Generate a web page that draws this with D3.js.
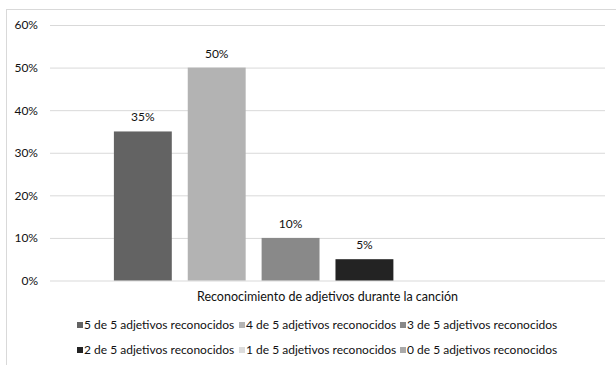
<!DOCTYPE html>
<html>
<head>
<meta charset="utf-8">
<script src="https://cdn.jsdelivr.net/npm/d3@7/dist/d3.min.js"></script>
<style>
  html, body { margin: 0; padding: 0; background: #fff; }
  svg text { font-family: "Lato", "Liberation Sans", sans-serif; fill: #111; }
</style>
</head>
<body>
<svg id="chart" width="616" height="365"></svg>
<script>
// One category, six series (number of adjectives recognised)
const category = "Reconocimiento de adjetivos durante la canción";
const seriesNames = [
  "5 de 5 adjetivos reconocidos",
  "4 de 5 adjetivos reconocidos",
  "3 de 5 adjetivos reconocidos",
  "2 de 5 adjetivos reconocidos",
  "1 de 5 adjetivos reconocidos",
  "0 de 5 adjetivos reconocidos"
];
const seriesValues = [35, 50, 10, 5, 0, 0];
const seriesColors = ["#636363", "#b3b3b3", "#898989", "#232323", "#dcdcdc", "#a9a9a9"];
const yTicks = [0, 10, 20, 30, 40, 50, 60];

const svg = d3.select("#chart");
const W = 616, H = 365;
const plot = { left: 50, right: 605, top: 25, bottom: 280.5 };

// outer chart frame
svg.append("rect")
  .attr("x", 6.5).attr("y", 9.5)
  .attr("width", W + 20).attr("height", H + 20)
  .attr("fill", "none").attr("stroke", "#d9d9d9");

const y = d3.scaleLinear().domain([0, 60]).range([plot.bottom, plot.top]);
const x = d3.scaleBand().domain(seriesNames)
  .range([plot.left, plot.right])
  .paddingInner(0.216).paddingOuter(0.865);

// gridlines + tick labels
const yAxis = d3.axisLeft(y).tickValues(yTicks)
  .tickSize(-(plot.right - plot.left)).tickPadding(12)
  .tickFormat(d => d + "%");
const gy = svg.append("g").attr("transform", `translate(${plot.left},0)`).call(yAxis);
gy.select(".domain").remove();
gy.selectAll(".tick line").attr("stroke", "#d9d9d9").attr("stroke-width", 1);
gy.selectAll(".tick text").attr("font-size", 12).style("font-family", "Lato, 'Liberation Sans', sans-serif").attr("fill", "#111");

// bars
svg.append("g").selectAll("rect")
  .data(seriesNames.map((s, i) => ({ s, v: seriesValues[i], c: seriesColors[i] })))
  .join("rect")
  .attr("x", d => x(d.s))
  .attr("width", x.bandwidth())
  .attr("y", d => y(d.v))
  .attr("height", d => y(0) - y(d.v))
  .attr("fill", d => d.c);

// value labels on non-zero bars
svg.append("g").selectAll("text")
  .data(seriesNames.map((s, i) => ({ s, v: seriesValues[i] })).filter(d => d.v > 0))
  .join("text")
  .attr("x", d => x(d.s) + x.bandwidth() / 2)
  .attr("y", d => y(d.v) - 10)
  .attr("text-anchor", "middle")
  .attr("font-size", 12)
  .text(d => d.v + "%");

// category axis title
svg.append("text")
  .attr("x", (plot.left + plot.right) / 2)
  .attr("y", 301)
  .attr("text-anchor", "middle")
  .attr("font-size", 12.5)
  .text(category);

// legend: three columns, two rows
const legendX = [77, 239, 400];
const legendY = [325, 350];
const lg = svg.append("g").selectAll("g")
  .data(seriesNames.map((s, i) => ({ s, c: seriesColors[i], i })))
  .join("g")
  .attr("transform", d => `translate(${legendX[d.i % 3]},${legendY[Math.floor(d.i / 3)]})`);
lg.append("rect").attr("x", 0).attr("y", -3).attr("width", 6).attr("height", 6).attr("fill", d => d.c);
lg.append("text").attr("x", 7).attr("y", 4).attr("font-size", 12).text(d => d.s);
</script>
</body>
</html>
